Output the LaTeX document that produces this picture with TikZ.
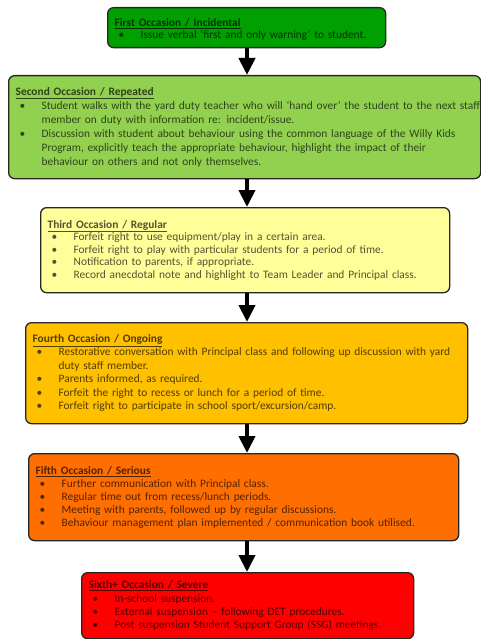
\documentclass[tikz,border=0pt]{standalone}
\usepackage{fontspec}
\setmainfont{Carlito}
\usetikzlibrary{arrows.meta}

\definecolor{occone}{RGB}{0,160,0}
\definecolor{occtwo}{RGB}{146,208,80}
\definecolor{occthree}{RGB}{255,255,153}
\definecolor{occfour}{RGB}{255,192,0}
\definecolor{occfive}{RGB}{255,110,0}
\definecolor{occsix}{RGB}{255,0,0}

\newcommand{\bul}{\par\noindent\hangindent=26pt\hangafter=1\makebox[26pt][l]{\hspace{4pt}\textbullet}}
\newcommand{\occhead}[1]{\noindent\textbf{\underline{#1}}}
\hyphenpenalty=10000

\begin{document}
\begin{tikzpicture}[x=1pt,y=-1pt,
  occasion/.style={draw=black!85, line width=1.3pt, rounded corners=6pt,
    anchor=north west, align=left, inner xsep=7pt, inner ysep=4pt,
    fill=#1, text=#1!32!black, font=\fontsize{11.4}{13.5}\selectfont},
  flow/.style={-{Triangle[width=16pt,length=17pt]}, line width=4pt}]
\useasboundingbox (0,0) rectangle (481,639);

% Occasion boxes
\node[occasion=occone, text width=264pt, minimum height=40pt,
  font=\fontsize{11.4}{12}\selectfont] (b1) at (107,7) {%
  \rule{0pt}{12pt}\occhead{First Occasion / Incidental}
  \bul Issue verbal ‘first and only warning’ to student.\par};
\node[occasion=occtwo, text width=458pt, minimum height=103pt,
  font=\fontsize{11.4}{14}\selectfont] (b2) at (8,75) {%
  \occhead{Second Occasion / Repeated}
  \bul \mbox{Student walks with the yard duty teacher who will ‘hand over’ the student to the next staff}\break
  \mbox{member on duty with information re: incident/issue.}
  \bul \mbox{Discussion with student about behaviour using the common language of the Willy Kids}\break
  \mbox{Program, explicitly teach the appropriate behaviour, highlight the impact of their}\break
  \mbox{behaviour on others and not only themselves.}\par};
\node[occasion=occthree, text width=395pt, minimum height=85pt,
  font=\fontsize{11.4}{12.5}\selectfont] (b3) at (40,207) {%
  \occhead{Third Occasion / Regular}
  \bul Forfeit right to use equipment/play in a certain area.
  \bul Forfeit right to play with particular students for a period of time.
  \bul Notification to parents, if appropriate.
  \bul Record anecdotal note and highlight to Team Leader and Principal class.\par};
\node[occasion=occfour, text width=428pt, minimum height=101pt] (b4) at (25,322) {%
  \occhead{Fourth Occasion / Ongoing}
  \bul \mbox{Restorative conversation with Principal class and following up discussion with yard}\break
  \mbox{duty staff member.}
  \bul Parents informed, as required.
  \bul Forfeit the right to recess or lunch for a period of time.
  \bul Forfeit right to participate in school sport/excursion/camp.\par};
\node[occasion=occfive, text width=416pt, minimum height=87pt,
  font=\fontsize{11.4}{13}\selectfont] (b5) at (28,453) {%
  \occhead{Fifth Occasion / Serious}
  \bul Further communication with Principal class.
  \bul Regular time out from recess/lunch periods.
  \bul Meeting with parents, followed up by regular discussions.
  \bul Behaviour management plan implemented / communication book utilised.\par};
\node[occasion=occsix, text width=318pt, minimum height=66pt,
  font=\fontsize{11.4}{13.3}\selectfont] (b6) at (81,572) {%
  \occhead{Sixth+ Occasion / Severe}
  \bul In-school suspension.
  \bul External suspension -- following DET procedures.
  \bul Post suspension Student Support Group (SSG) meetings.\par};

% Arrows
\coordinate (axis) at (247,0);
\draw[flow] (b1.south -| axis) -- (b2.north -| axis);
\draw[flow] (b2.south -| axis) -- (b3.north -| axis);
\draw[flow] (b3.south -| axis) -- (b4.north -| axis);
\draw[flow] (b4.south -| axis) -- (b5.north -| axis);
\draw[flow] (b5.south -| axis) -- (b6.north -| axis);
\end{tikzpicture}
\end{document}
